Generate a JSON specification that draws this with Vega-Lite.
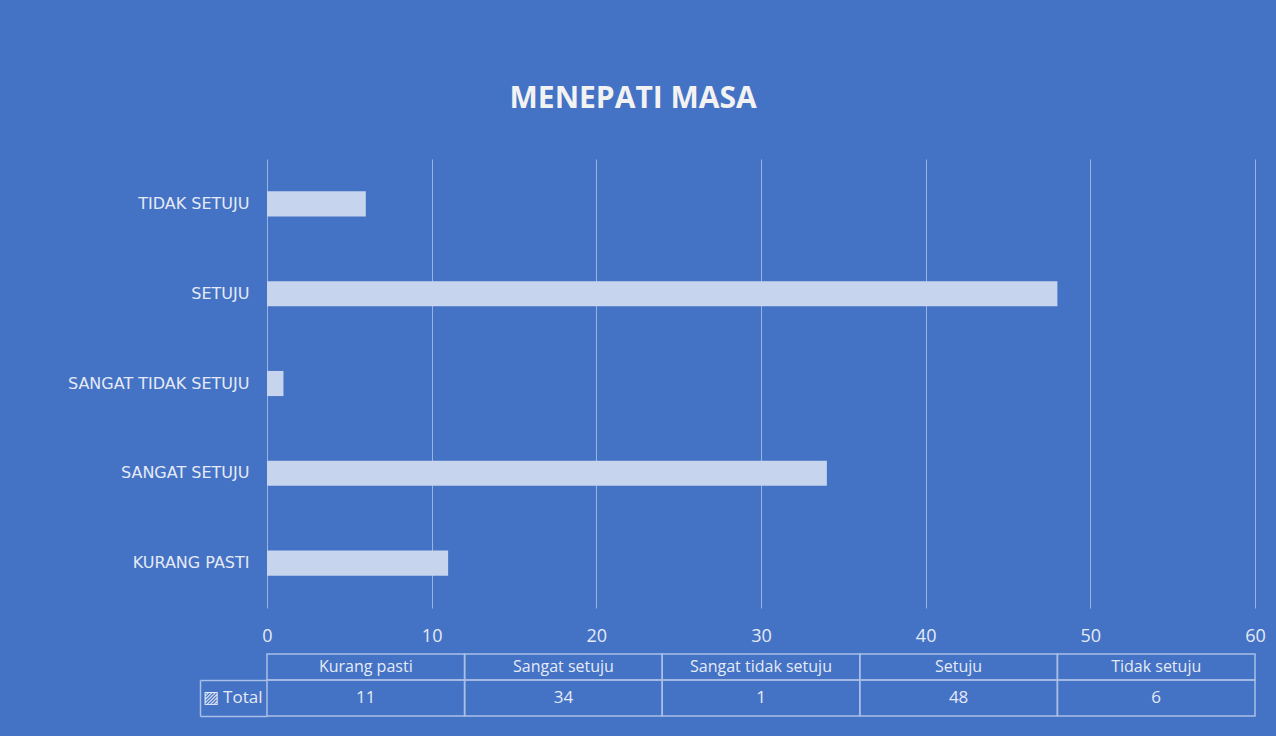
{
  "$schema": "https://vega.github.io/schema/vega-lite/v6.json",
  "background": "#4472C4",
  "autosize": {"type": "pad"},
  "padding": {"left": 17, "top": 84, "right": 11, "bottom": 23},
  "datasets": {
    "d": [
      {"kategori": "Kurang pasti", "total": 11},
      {"kategori": "Sangat setuju", "total": 34},
      {"kategori": "Sangat tidak setuju", "total": 1},
      {"kategori": "Setuju", "total": 48},
      {"kategori": "Tidak setuju", "total": 6}
    ]
  },
  "title": {
    "text": "MENEPATI MASA",
    "font": "Open Sans",
    "fontSize": 30,
    "fontWeight": "bold",
    "color": "#F2F2F2",
    "anchor": "middle",
    "frame": "bounds",
    "dx": -8,
    "offset": 15,
    "baseline": "bottom"
  },
  "config": {"view": {"stroke": null}},
  "bounds": "flush",
  "spacing": 46,
  "vconcat": [
    {
      "width": 988,
      "height": 449,
      "data": {"name": "d"},
      "mark": {"type": "bar", "fill": "#C6D4EE"},
      "encoding": {
        "y": {
          "field": "kategori",
          "type": "nominal",
          "sort": ["Tidak setuju", "Setuju", "Sangat tidak setuju", "Sangat setuju", "Kurang pasti"],
          "scale": {"paddingInner": 0.72, "paddingOuter": 0.36},
          "axis": {
            "title": null,
            "labelExpr": "upper(datum.label)",
            "ticks": false,
            "domain": false,
            "labelPadding": 18,
            "labelLimit": 240,
            "labelFont": "DejaVu Sans",
            "labelFontSize": 16,
            "labelColor": "#E4EAF6",
            "minExtent": 250,
            "maxExtent": 250
          }
        },
        "x": {
          "field": "total",
          "type": "quantitative",
          "scale": {"domain": [0, 60], "nice": false},
          "axis": {
            "title": null,
            "values": [0, 10, 20, 30, 40, 50, 60],
            "grid": true,
            "gridColor": "#9AB2DF",
            "gridWidth": 1,
            "domain": false,
            "ticks": false,
            "labelPadding": 19,
            "labelFont": "Open Sans",
            "labelFontSize": 18,
            "labelColor": "#E4EAF6",
            "labelFlush": false
          }
        }
      }
    },
    {
      "bounds": "flush",
      "spacing": 0,
      "vconcat": [
        {
          "width": 988,
          "height": 26,
          "data": {"name": "d"},
          "encoding": {
            "x": {
              "field": "kategori",
              "type": "nominal",
              "sort": "ascending",
              "scale": {"paddingInner": 0, "paddingOuter": 0},
              "axis": null
            }
          },
          "layer": [
            {"mark": {"type": "rect", "fill": "transparent", "stroke": "#A9BFE6", "strokeWidth": 1.5}},
            {
              "mark": {"type": "text", "font": "Open Sans", "fontSize": 16, "color": "#E4EAF6"},
              "encoding": {"text": {"field": "kategori"}}
            }
          ]
        },
        {
          "width": 988,
          "height": 36,
          "data": {"name": "d"},
          "encoding": {
            "x": {
              "field": "kategori",
              "type": "nominal",
              "sort": "ascending",
              "scale": {"paddingInner": 0, "paddingOuter": 0},
              "axis": null
            }
          },
          "layer": [
            {
              "mark": {"type": "rect", "fill": "transparent", "stroke": "#A9BFE6", "strokeWidth": 1.5},
              "encoding": {
                "y": {
                  "datum": "Total",
                  "type": "nominal",
                  "scale": {"paddingInner": 0, "paddingOuter": 0},
                  "axis": {
                    "title": null,
                    "orient": "left",
                    "offset": 67,
                    "tickSize": -67,
                    "tickBand": "extent",
                    "tickColor": "#A9BFE6",
                    "tickWidth": 1.5,
                    "domainColor": "#A9BFE6",
                    "domainWidth": 1.5,
                    "labels": false
                  }
                }
              }
            },
            {
              "mark": {"type": "text", "font": "Open Sans", "fontSize": 17, "color": "#E4EAF6"},
              "encoding": {
                "y": {
                  "datum": "Total",
                  "type": "nominal",
                  "axis": {
                    "title": null,
                    "orient": "left",
                    "ticks": false,
                    "domain": false,
                    "labelPadding": 5,
                    "labelExpr": "'▨ Total'",
                    "labelFont": "Open Sans",
                    "labelFontSize": 17,
                    "labelColor": "#E4EAF6"
                  }
                },
                "text": {"field": "total", "type": "quantitative"}
              }
            }
          ],
          "resolve": {"axis": {"y": "independent"}}
        }
      ]
    }
  ]
}
